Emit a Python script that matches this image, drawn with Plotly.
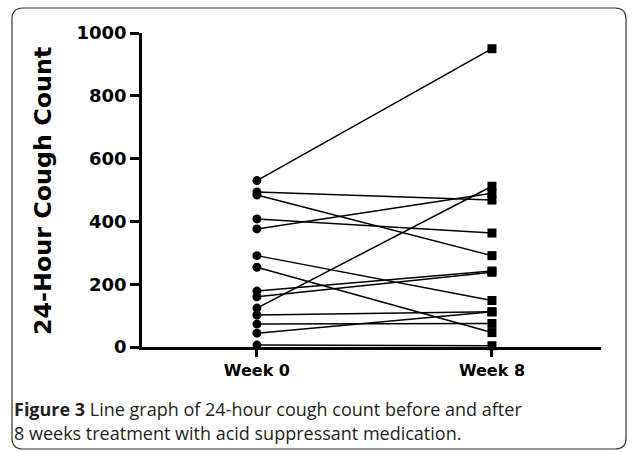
import plotly.graph_objects as go

# ---- data ----
time_labels = ["Week 0", "Week 8"]
week0 = [530, 494, 484, 408, 376, 291, 254, 178, 160, 124, 102, 73, 44, 6]
week8 = [950, 468, 291, 363, 490, 148, 46, 242, 238, 512, 112, 75, 112, 4]
y_ticks = [0, 200, 400, 600, 800, 1000]

# ---- layout geometry (pixels) ----
W, H = 634, 452
L, R, T, B = 142, 601, 33, 347
pw, ph = R - L, B - T

def px(x):
    return (x - L) / pw

def py(y):
    return (B - y) / ph

fig = go.Figure()
for a, b in zip(week0, week8):
    fig.add_trace(go.Scatter(
        x=[0, 1], y=[a, b], mode="lines+markers",
        line=dict(color="black", width=1.5),
        marker=dict(symbol=["circle", "square"], size=9, color="black"),
        showlegend=False, cliponaxis=False, hoverinfo="skip"))

tick_font = dict(family="DejaVu Sans", size=18, color="black")
fig.update_layout(
    width=W, height=H,
    margin=dict(l=L, r=W - R, t=T, b=H - B),
    paper_bgcolor="white", plot_bgcolor="white",
    xaxis=dict(range=[-0.489, 1.464], tickvals=[0, 1], ticktext=[f"<b>{t}</b>" for t in time_labels],
               showgrid=False, zeroline=False, showline=True, linecolor="black", linewidth=2.5,
               ticks="outside", ticklen=7, tickwidth=2.5, tickcolor="black",
               tickfont=dict(family="DejaVu Sans", size=16, color="black")),
    yaxis=dict(range=[0, 1000], tickvals=y_ticks, ticktext=[f"<b>{v}</b>" for v in y_ticks],
               showgrid=False, zeroline=False, showline=True, linecolor="black", linewidth=2.5,
               ticks="outside", ticklen=9, tickwidth=2.5, tickcolor="black",
               tickfont=tick_font),
)

# y-axis title
fig.add_annotation(text="<b>24-Hour Cough Count</b>", textangle=-90,
                   xref="paper", yref="paper", x=px(43), y=py(191),
                   xanchor="center", yanchor="middle", showarrow=False,
                   font=dict(family="DejaVu Sans", size=23.8, color="black"))

# caption
cap_font = dict(family="Open Sans", size=18, color="#231f20")
fig.add_annotation(text="<b>Figure 3</b> Line graph of 24-hour cough count before and after",
                   xref="paper", yref="paper", x=px(12), y=py(409),
                   xanchor="left", yanchor="middle", showarrow=False, font=cap_font)
fig.add_annotation(text="8 weeks treatment with acid suppressant medication.",
                   xref="paper", yref="paper", x=px(12), y=py(433),
                   xanchor="left", yanchor="middle", showarrow=False, font=cap_font)

# rounded frame
x0, x1, y0, y1, r = 12, 626, 8, 449, 11
path = (f"M {px(x0 + r)},{py(y0)} L {px(x1 - r)},{py(y0)} "
        f"Q {px(x1)},{py(y0)} {px(x1)},{py(y0 + r)} "
        f"L {px(x1)},{py(y1 - r)} Q {px(x1)},{py(y1)} {px(x1 - r)},{py(y1)} "
        f"L {px(x0 + r)},{py(y1)} Q {px(x0)},{py(y1)} {px(x0)},{py(y1 - r)} "
        f"L {px(x0)},{py(y0 + r)} Q {px(x0)},{py(y0)} {px(x0 + r)},{py(y0)} Z")
fig.add_shape(type="path", path=path, xref="paper", yref="paper",
              line=dict(color="#333333", width=1.2), layer="below")

fig.write_html("out.html", config={"displayModeBar": False},
               post_script="document.body.style.margin='0';")
